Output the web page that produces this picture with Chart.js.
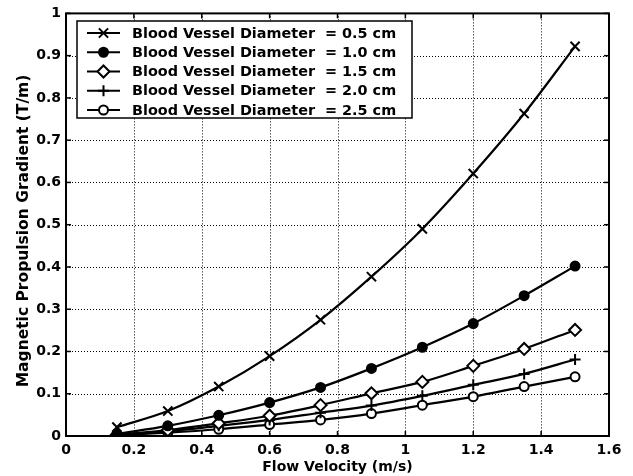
<!DOCTYPE html>
<html>
<head>
<meta charset="utf-8">
<script src="https://cdn.jsdelivr.net/npm/chart.js@4/dist/chart.umd.min.js"></script>
<style>
html,body{margin:0;padding:0;background:#fff;}
#wrap{width:633px;height:476px;}
</style>
</head>
<body>
<div id="wrap"><canvas id="c" width="633" height="476"></canvas></div>
<script>
const velocity = [0.15, 0.3, 0.45, 0.6, 0.75, 0.9, 1.05, 1.2, 1.35, 1.5];
const d05 = [0.021, 0.059, 0.117, 0.189, 0.275, 0.377, 0.490, 0.621, 0.763, 0.922];
const d10 = [0.005, 0.024, 0.049, 0.079, 0.115, 0.160, 0.210, 0.266, 0.332, 0.402];
const d15 = [0.003, 0.014, 0.030, 0.048, 0.073, 0.101, 0.128, 0.166, 0.206, 0.251];
const d20 = [0.002, 0.011, 0.024, 0.038, 0.055, 0.072, 0.095, 0.121, 0.147, 0.181];
const d25 = [0.002, 0.008, 0.016, 0.027, 0.038, 0.053, 0.073, 0.093, 0.117, 0.140];
const seriesLabels = [
  'Blood Vessel Diameter  = 0.5 cm',
  'Blood Vessel Diameter  = 1.0 cm',
  'Blood Vessel Diameter  = 1.5 cm',
  'Blood Vessel Diameter  = 2.0 cm',
  'Blood Vessel Diameter  = 2.5 cm'
];
const xTitle = 'Flow Velocity (m/s)';
const yTitle = 'Magnetic Propulsion Gradient (T/m)';

const FONT = '"DejaVu Sans", "Liberation Sans", Arial, sans-serif';
const styles = [
  {pointStyle:'crossRot', radius:6.5, fill:'#000'},
  {pointStyle:'circle', radius:4.5, fill:'#000'},
  {pointStyle:'rectRot', radius:6, fill:'#fff'},
  {pointStyle:'cross', radius:5.5, fill:'#000'},
  {pointStyle:'circle', radius:4.5, fill:'#fff'}
];
const allData = [d05, d10, d15, d20, d25];

const datasets = allData.map((arr, i) => ({
  label: seriesLabels[i],
  data: arr.map((v, j) => ({x: velocity[j], y: v})),
  borderColor: '#000',
  backgroundColor: styles[i].fill,
  borderWidth: 2.2,
  pointStyle: styles[i].pointStyle,
  pointRadius: styles[i].radius,
  pointBorderWidth: 2,
  pointBackgroundColor: styles[i].fill,
  pointBorderColor: '#000',
  tension: 0.35,
  cubicInterpolationMode: 'monotone',
  fill: false
}));

const framePlugin = {
  id: 'frame',
  beforeDatasetsDraw(chart) {
    const {ctx, chartArea: a, scales} = chart;
    ctx.save();
    ctx.strokeStyle = '#000';
    ctx.lineWidth = 1;
    ctx.setLineDash([1, 2]);
    scales.x.ticks.forEach(t => {
      const px = Math.round(scales.x.getPixelForValue(t.value)) + 0.5;
      if (px <= a.left + 1 || px >= a.right - 1) return;
      ctx.beginPath(); ctx.moveTo(px, a.top); ctx.lineTo(px, a.bottom); ctx.stroke();
    });
    scales.y.ticks.forEach(t => {
      const py = Math.round(scales.y.getPixelForValue(t.value)) + 0.5;
      if (py <= a.top + 1 || py >= a.bottom - 1) return;
      ctx.beginPath(); ctx.moveTo(a.left, py); ctx.lineTo(a.right, py); ctx.stroke();
    });
    ctx.restore();
  },
  afterDatasetsDraw(chart) {
    const {ctx, chartArea: a, scales} = chart;
    ctx.save();
    ctx.strokeStyle = '#000';
    ctx.setLineDash([]);
    ctx.lineWidth = 1.5;
    const tl = 5;
    scales.x.ticks.forEach(t => {
      const px = scales.x.getPixelForValue(t.value);
      ctx.beginPath(); ctx.moveTo(px, a.bottom); ctx.lineTo(px, a.bottom - tl); ctx.stroke();
      ctx.beginPath(); ctx.moveTo(px, a.top); ctx.lineTo(px, a.top + tl); ctx.stroke();
    });
    scales.y.ticks.forEach(t => {
      const py = scales.y.getPixelForValue(t.value);
      ctx.beginPath(); ctx.moveTo(a.left, py); ctx.lineTo(a.left + tl, py); ctx.stroke();
      ctx.beginPath(); ctx.moveTo(a.right, py); ctx.lineTo(a.right - tl, py); ctx.stroke();
    });
    ctx.lineWidth = 2;
    ctx.strokeRect(a.left, a.top, a.right - a.left, a.bottom - a.top);

    // legend
    const lx = 77, ly = 21, lw = 335, lh = 97;
    ctx.fillStyle = '#fff';
    ctx.fillRect(lx, ly, lw, lh);
    ctx.lineWidth = 1.5;
    ctx.strokeRect(lx, ly, lw, lh);
    ctx.font = 'bold 14.4px ' + FONT;
    ctx.textBaseline = 'middle';
    ctx.textAlign = 'left';
    chart.data.datasets.forEach((ds, i) => {
      const y = ly + 12 + i * 19.25;
      ctx.lineWidth = 2;
      ctx.strokeStyle = '#000';
      ctx.beginPath(); ctx.moveTo(87, y); ctx.lineTo(120, y); ctx.stroke();
      ctx.fillStyle = ds.pointBackgroundColor;
      ctx.strokeStyle = '#000';
      ctx.lineWidth = 2;
      Chart.helpers.drawPoint(ctx, {pointStyle: ds.pointStyle, radius: ds.pointRadius, rotation: 0, borderWidth: 2}, 103.5, y);
      ctx.fillStyle = '#000';
      ctx.fillText(ds.label, 132, y + 1);
    });

    // axis titles
    ctx.fillStyle = '#000';
    ctx.font = 'bold 14px ' + FONT;
    ctx.textAlign = 'center';
    ctx.textBaseline = 'alphabetic';
    ctx.fillText(xTitle, (a.left + a.right) / 2, 471);
    ctx.save();
    ctx.translate(28, 231);
    ctx.rotate(-Math.PI / 2);
    ctx.font = 'bold 15.5px ' + FONT;
    ctx.fillText(yTitle, 0, 0);
    ctx.restore();
    ctx.restore();
  }
};

const fmt = v => String(Number(Number(v).toFixed(2)));

new Chart(document.getElementById('c'), {
  type: 'line',
  data: { datasets },
  options: {
    responsive: false,
    animation: false,
    layout: { padding: { left: 0, right: 24, top: 13, bottom: 0 } },
    plugins: { legend: { display: false }, tooltip: { enabled: false } },
    scales: {
      x: {
        type: 'linear', min: 0, max: 1.6,
        ticks: { stepSize: 0.2, autoSkip: false, color: '#000', font: { family: FONT, size: 14, weight: 'bold' }, padding: 6, maxRotation: 0, callback: fmt },
        grid: { display: false, drawTicks: false },
        border: { display: false },
        afterFit(s) { s.height = 40; }
      },
      y: {
        type: 'linear', min: 0, max: 1,
        ticks: { stepSize: 0.1, autoSkip: false, color: '#000', font: { family: FONT, size: 14, weight: 'bold' }, padding: 5, callback: fmt },
        grid: { display: false, drawTicks: false },
        border: { display: false },
        afterFit(s) { s.width = 66; }
      }
    }
  },
  plugins: [framePlugin]
});
</script>
</body>
</html>
